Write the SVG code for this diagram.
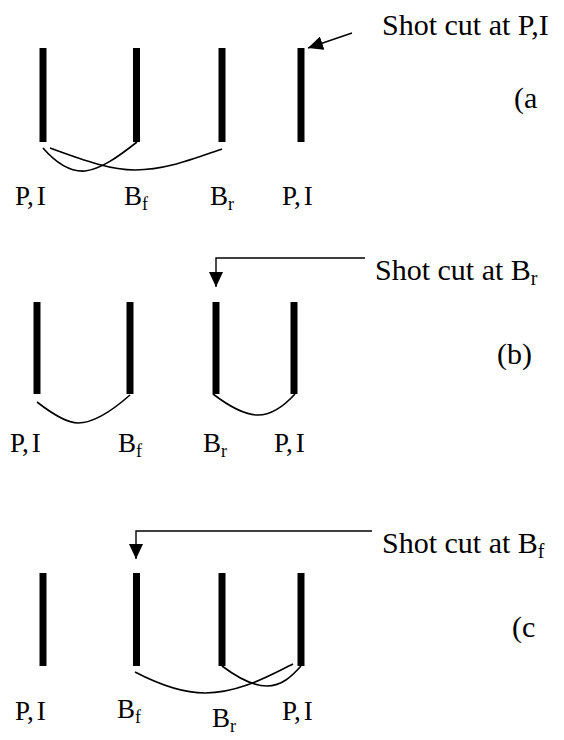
<svg xmlns="http://www.w3.org/2000/svg" width="564" height="740" viewBox="0 0 564 740">
<style>
text{font-family:"Liberation Serif","Times New Roman",serif;fill:#000}
.h{font-size:30px}
.l{font-size:27px}
.p{font-size:30px}
.bar{stroke:#000;stroke-width:7;fill:none}
.c{stroke:#000;stroke-width:1.6;fill:none}
.a{stroke:#000;stroke-width:1.4;fill:none;marker-end:url(#ah)}
</style>
<defs>
<marker id="ah" markerUnits="userSpaceOnUse" markerWidth="16" markerHeight="14" refX="15" refY="7" orient="auto">
<path d="M0,0 L15,7 L0,14 z" fill="#000"/>
</marker>
</defs>
<rect width="564" height="740" fill="#fff"/>
<g id="panel-a">
<g id="a-bars">
<line class="bar" x1="43" y1="48" x2="43" y2="142"/>
<line class="bar" x1="136.5" y1="48" x2="136.5" y2="142"/>
<line class="bar" x1="222" y1="48" x2="222" y2="142"/>
<line class="bar" x1="301" y1="48" x2="301" y2="142"/>
</g>
<g id="a-labels">
<text class="l" x="15" y="205">P,<tspan dx="3">I</tspan></text>
<text class="l" x="124" y="205">B<tspan font-size="18" dy="5">f</tspan></text>
<text class="l" x="210" y="205">B<tspan font-size="18" dy="5">r</tspan></text>
<text class="l" x="282" y="205">P,<tspan dx="3">I</tspan></text>
</g>
<text class="h" x="382" y="35">Shot cut at P,I</text>
<text class="p" x="514" y="108">(a</text>
</g>
<g id="panel-b">
<g id="b-bars">
<line class="bar" x1="37" y1="302" x2="37" y2="394"/>
<line class="bar" x1="130" y1="302" x2="130" y2="394"/>
<line class="bar" x1="216" y1="302" x2="216" y2="394"/>
<line class="bar" x1="294" y1="302" x2="294" y2="394"/>
</g>
<g id="b-labels">
<text class="l" x="10" y="452">P,<tspan dx="3">I</tspan></text>
<text class="l" x="118" y="452">B<tspan font-size="18" dy="5">f</tspan></text>
<text class="l" x="203" y="452">B<tspan font-size="18" dy="5">r</tspan></text>
<text class="l" x="274" y="452">P,<tspan dx="3">I</tspan></text>
</g>
<text class="h" x="375" y="280">Shot cut at B<tspan font-size="20" dy="5">r</tspan></text>
<text class="p" x="497" y="364">(b)</text>
</g>
<g id="panel-c">
<g id="c-bars">
<line class="bar" x1="43" y1="573" x2="43" y2="666"/>
<line class="bar" x1="136.5" y1="573" x2="136.5" y2="666"/>
<line class="bar" x1="222" y1="573" x2="222" y2="666"/>
<line class="bar" x1="301" y1="573" x2="301" y2="666"/>
</g>
<g id="c-labels">
<text class="l" x="15" y="720">P,<tspan dx="3">I</tspan></text>
<text class="l" x="117" y="718">B<tspan font-size="18" dy="5">f</tspan></text>
<text class="l" x="212" y="727">B<tspan font-size="18" dy="5">r</tspan></text>
<text class="l" x="282" y="720">P,<tspan dx="3">I</tspan></text>
</g>
<text class="h" x="382" y="553">Shot cut at B<tspan font-size="20" dy="5">f</tspan></text>
<text class="p" x="512" y="637">(c</text>
</g>
<g id="connectors">
<path class="c" d="M43,148 C56,163 70,172 85,171 C101,169 118,157 137,142"/>
<path class="c" d="M50,148 C88,162 112,170 135,170 C165,170 190,160 222,149"/>
<path class="c" d="M37,402 C55,416 68,423 78,423 C95,423 113,410 130,395"/>
<path class="c" d="M213,394 C230,407 245,415 258,415 C272,415 285,405 295,394"/>
<path class="c" d="M135,672 C160,685 185,693 205,693 C240,693 270,675 293,664"/>
<path class="c" d="M222,666 C238,678 255,686 267,686 C282,686 292,676 301,666"/>
<path class="a" d="M352,33 L308,48"/>
<path class="a" d="M365,258 L216,258 L216,287"/>
<path class="a" d="M372,531 L136,531 L136,559"/>
</g>
</svg>
